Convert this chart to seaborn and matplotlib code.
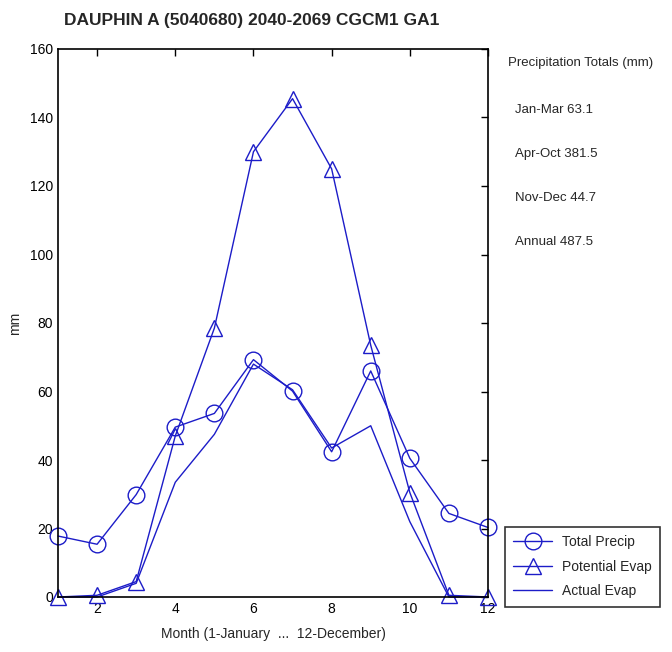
import matplotlib
matplotlib.use("Agg")
import matplotlib.pyplot as plt
import seaborn as sns

# chart data
months = list(range(1, 13))
total_precip = [17.8, 15.4, 29.9, 49.6, 53.6, 69.3, 60.1, 42.4, 66.0, 40.5, 24.4, 20.3]
potential_evap = [0.0, 0.5, 4.5, 47.0, 78.5, 130.0, 145.5, 125.0, 73.5, 30.5, 0.5, 0.0]
actual_evap = [0.0, 0.0, 4.0, 33.5, 47.5, 68.0, 60.5, 43.5, 50.0, 22.0, 0.0, 0.0]
x_ticks = [2, 4, 6, 8, 10, 12]
y_ticks = [0, 20, 40, 60, 80, 100, 120, 140, 160]
totals_title = "Precipitation Totals (mm)"
totals_lines = ["Jan-Mar 63.1", "Apr-Oct 381.5", "Nov-Dec 44.7", "Annual 487.5"]

sns.set_style("white")
plt.rcParams["font.family"] = ["Liberation Sans Narrow", "Liberation Sans", "DejaVu Sans"]

BLUE = "#1c1cc8"

fig = plt.figure(figsize=(6.72, 6.52), dpi=100)
ax = fig.add_axes([58 / 672, 55 / 652, 430 / 672, 548 / 652])

sns.lineplot(x=months, y=total_precip, ax=ax, color=BLUE, lw=1.0, marker="o", markersize=12,
             markerfacecolor="none", markeredgecolor=BLUE, markeredgewidth=1.0, label="Total Precip",
             clip_on=False)
sns.lineplot(x=months, y=potential_evap, ax=ax, color=BLUE, lw=1.0, marker="^", markersize=12,
             markerfacecolor="none", markeredgecolor=BLUE, markeredgewidth=1.0, label="Potential Evap",
             clip_on=False)
sns.lineplot(x=months, y=actual_evap, ax=ax, color=BLUE, lw=1.0, label="Actual Evap", clip_on=False)

ax.set_xlim(1, 12)
ax.set_ylim(0, 160)
ax.set_xticks(x_ticks)
ax.set_yticks(y_ticks)
ax.tick_params(direction="in", length=5, width=1, top=True, right=True, labelsize=10, colors="black")
for sp in ax.spines.values():
    sp.set_color("black")
    sp.set_linewidth(1.2)

ax.set_xlabel("Month (1-January  ...  12-December)", fontsize=10, labelpad=8)
ax.set_ylabel("mm", fontsize=10)
ax.yaxis.set_label_coords(-36 / 430, 0.5)
fig.text(252 / 672, 1 - 20 / 652, "DAUPHIN A (5040680) 2040-2069 CGCM1 GA1", ha="center", va="center",
         fontsize=12.5, fontweight="bold")

fig.text(508 / 672, 1 - 63 / 652, totals_title, ha="left", va="center", fontsize=9.5)
for i, line in enumerate(totals_lines):
    fig.text(515 / 672, 1 - (110 + i * 44) / 652, line, ha="left", va="center", fontsize=9.5)

leg = ax.legend(loc="upper left", bbox_to_anchor=(505 / 672, 1 - 527 / 652), bbox_transform=fig.transFigure,
                frameon=True, fancybox=False, fontsize=10, handlelength=2.8, borderpad=0.6,
                labelspacing=0.75, borderaxespad=0, handletextpad=0.7)
leg.get_frame().set_edgecolor("black")
leg.get_frame().set_linewidth(1.2)

fig.savefig("out.png", dpi=100)
